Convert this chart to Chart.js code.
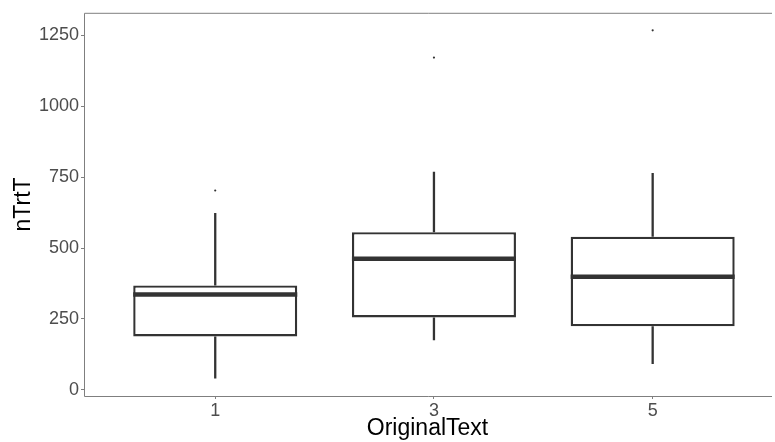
<!DOCTYPE html>
<html>
<head>
<meta charset="utf-8">
<script src="https://cdn.jsdelivr.net/npm/chart.js@4"></script>
<style>
  html, body { margin: 0; padding: 0; background: #fff; overflow: hidden; }
  #wrap { width: 775px; height: 442px; }
</style>
</head>
<body>
<div id="wrap"><canvas id="myChart"></canvas></div>
<script>
// box plot summary values
const categories = ["1", "3", "5"];
const lowerWhisker = [40, 175, 91];
const q1 = [188, 255, 224];
const median = [336, 462, 399];
const q3 = [368, 556, 540];
const upperWhisker = [624, 769, 765];
const outliers = [[703], [1172], [1268]];
const yTicks = [0, 250, 500, 750, 1000, 1250];

const ink = "#333333";
const frame = "#7f7f7f";

const boxData = categories.map((c, i) => ({ x: i + 1, y: [q1[i], q3[i]] }));
const outlierData = [];
outliers.forEach((list, i) => list.forEach((v) => outlierData.push({ x: i + 1, y: v })));

// whiskers behind the boxes, medians on top, plus the panel frame
const boxPlot = {
  id: "boxPlot",
  beforeDatasetsDraw(chart) {
    const { ctx, scales: { x, y } } = chart;
    ctx.save();
    ctx.strokeStyle = ink;
    ctx.lineWidth = 2.3;
    categories.forEach((c, i) => {
      const px = x.getPixelForValue(i + 1);
      ctx.beginPath();
      ctx.moveTo(px, y.getPixelForValue(q3[i]));
      ctx.lineTo(px, y.getPixelForValue(upperWhisker[i]));
      ctx.moveTo(px, y.getPixelForValue(q1[i]));
      ctx.lineTo(px, y.getPixelForValue(lowerWhisker[i]));
      ctx.stroke();
    });
    ctx.restore();
  },
  afterDatasetsDraw(chart) {
    const { ctx, scales: { x, y }, chartArea } = chart;
    const meta = chart.getDatasetMeta(0);
    ctx.save();
    ctx.strokeStyle = ink;
    ctx.lineWidth = 4.5;
    categories.forEach((c, i) => {
      const bar = meta.data[i];
      const half = bar.width / 2;
      const py = y.getPixelForValue(median[i]);
      ctx.beginPath();
      ctx.moveTo(bar.x - half, py);
      ctx.lineTo(bar.x + half, py);
      ctx.stroke();
    });
    ctx.strokeStyle = frame;
    ctx.lineWidth = 1;
    ctx.beginPath();
    ctx.moveTo(chartArea.right + 1, chartArea.top + 0.5);
    ctx.lineTo(chartArea.left + 0.5, chartArea.top + 0.5);
    ctx.lineTo(chartArea.left + 0.5, chartArea.bottom + 0.5);
    ctx.lineTo(chartArea.right + 1, chartArea.bottom + 0.5);
    ctx.stroke();
    ctx.restore();
  }
};

new Chart(document.getElementById("myChart"), {
  type: "bar",
  data: {
    datasets: [
      {
        label: "box",
        data: boxData,
        backgroundColor: "#ffffff",
        borderColor: ink,
        borderWidth: 2.4,
        borderSkipped: false,
        categoryPercentage: 1,
        barPercentage: 0.75,
        order: 2
      },
      {
        type: "scatter",
        label: "outliers",
        data: outlierData,
        backgroundColor: ink,
        borderColor: ink,
        pointRadius: 1.1,
        borderWidth: 0,
        order: 1
      }
    ]
  },
  options: {
    responsive: true,
    maintainAspectRatio: false,
    animation: false,
    layout: { padding: { top: 9, right: 0, bottom: 0, left: 0 } },
    plugins: { legend: { display: false }, tooltip: { enabled: false } },
    scales: {
      x: {
        type: "linear",
        offset: false,
        min: 0.4,
        max: 3.541,
        afterBuildTicks: (s) => { s.ticks = categories.map((c, i) => ({ value: i + 1 })); },
        afterFit: (s) => { s.height = 46; },
        ticks: {
          callback: (v) => categories[v - 1],
          color: "#4d4d4d",
          font: { family: "Liberation Sans, Arial", size: 18 },
          padding: 1,
          maxRotation: 0
        },
        grid: { offset: false, drawOnChartArea: false, tickLength: 3, color: frame },
        border: { display: false },
        title: {
          display: true,
          text: "OriginalText",
          color: "#000",
          font: { family: "Liberation Sans, Arial", size: 23 },
          padding: { top: 0, bottom: 0 }
        }
      },
      y: {
        min: -22,
        max: 1330,
        afterBuildTicks: (s) => { s.ticks = yTicks.map((v) => ({ value: v })); },
        afterFit: (s) => { s.width = 84; },
        ticks: {
          callback: (v) => String(v),
          color: "#4d4d4d",
          font: { family: "Liberation Sans, Arial", size: 18 },
          padding: 2
        },
        grid: { drawOnChartArea: false, tickLength: 3, color: frame },
        border: { display: false },
        title: {
          display: true,
          text: "nTrtT",
          color: "#000",
          font: { family: "Liberation Sans, Arial", size: 23 },
          padding: { top: 10, bottom: 0 }
        }
      }
    }
  },
  plugins: [boxPlot]
});
</script>
</body>
</html>
